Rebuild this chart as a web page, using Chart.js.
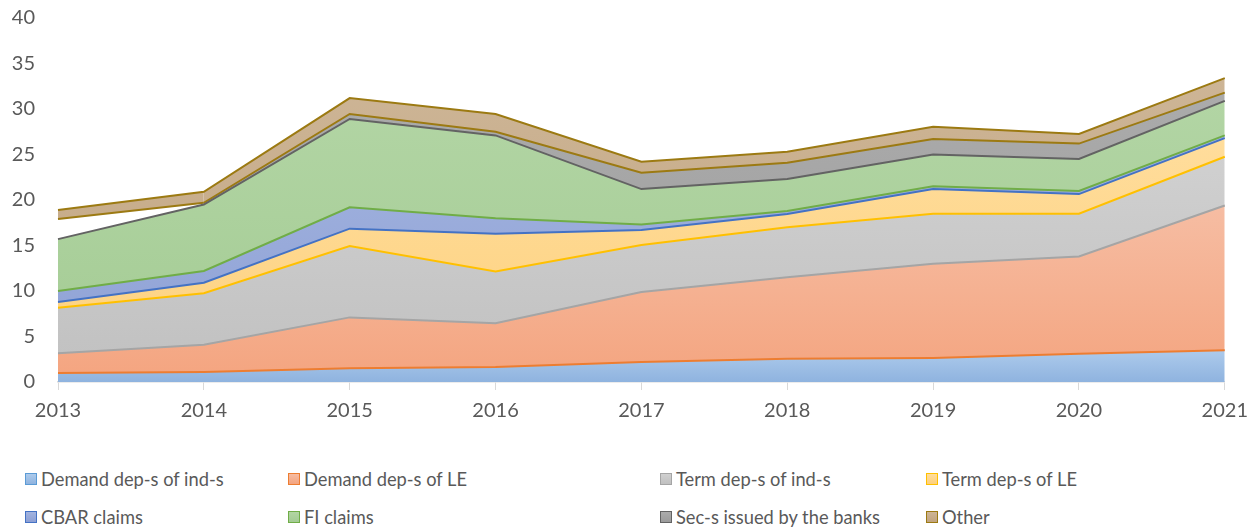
<!DOCTYPE html>
<html>
<head>
<meta charset="utf-8">
<script src="https://cdn.jsdelivr.net/npm/chart.js@4/dist/chart.umd.min.js"></script>
<style>
  body { margin: 0; background: #fff; font-family: Lato, sans-serif; }
  #contenedor { position: relative; width: 1257px; height: 529px; }
  #zonaGrafica { position: absolute; left: 0; top: 0; width: 1257px; height: 440px; }
  .item { position: absolute; display: flex; align-items: center; color: #595959; font-size: 18.3px; white-space: nowrap; }
  .caja { width: 10px; height: 10px; border: 1.5px solid; margin-right: 4px; }
</style>
</head>
<body>
<div id="contenedor">
  <div id="zonaGrafica"><canvas id="grafica"></canvas></div>
  <div id="leyenda"></div>
</div>
<script>
const anios = ["2013", "2014", "2015", "2016", "2017", "2018", "2019", "2020", "2021"];

const demandaInd = [1.0, 1.1, 1.5, 1.65, 2.2, 2.55, 2.65, 3.1, 3.5];
const demandaLE = [2.15, 3.0, 5.6, 4.8, 7.7, 8.95, 10.35, 10.7, 15.9];
const plazoInd = [5.0, 5.65, 7.85, 5.7, 5.15, 5.5, 5.5, 4.7, 5.35];
const plazoLE = [0.65, 1.15, 1.9, 4.15, 1.65, 1.45, 2.7, 2.15, 2.05];
const reclamosCBAR = [1.2, 1.3, 2.35, 1.7, 0.6, 0.35, 0.3, 0.35, 0.3];
const reclamosFI = [5.7, 7.3, 9.7, 9.1, 3.9, 3.5, 3.5, 3.5, 3.8];
const valoresBancos = [2.2, 0.2, 0.55, 0.4, 1.8, 1.8, 1.7, 1.7, 0.9];
const otros = [1.0, 1.2, 1.75, 1.95, 1.2, 1.2, 1.35, 1.05, 1.6];

const nombres = [
  "Demand dep-s of ind-s", "Demand dep-s of LE", "Term dep-s of ind-s", "Term dep-s of LE",
  "CBAR claims", "FI claims", "Sec-s issued by the banks", "Other"
];
const series = [demandaInd, demandaLE, plazoInd, plazoLE, reclamosCBAR, reclamosFI, valoresBancos, otros];

// relleno degradado: claro arriba, oscuro abajo
const claros = ["#adcbec", "#f6bda3", "#d0d0d0", "#ffdd9c", "#a2b3df", "#b2d5a4", "#ababab", "#cdb596"];
const oscuros = ["#8fb3df", "#f4a47f", "#c0c0c0", "#fdd07c", "#8c9fd4", "#a3cb93", "#9b9b9b", "#c1a47f"];
const lineas = ["#5b9bd5", "#ed7d31", "#a5a5a5", "#ffc000", "#4472c4", "#70ad47", "#636363", "#9c7a12"];

function degradado(i) {
  return (c) => {
    const chart = c.chart;
    if (!chart.chartArea) return oscuros[i];
    // tope de la serie apilada
    let tope = 0;
    for (let k = 0; k < anios.length; k++) {
      let suma = 0;
      for (let j = 0; j <= i; j++) suma += series[j][k];
      tope = Math.max(tope, suma);
    }
    const yTop = chart.scales.y.getPixelForValue(tope);
    const g = chart.ctx.createLinearGradient(0, yTop, 0, chart.chartArea.bottom);
    g.addColorStop(0, claros[i]);
    g.addColorStop(1, oscuros[i]);
    return g;
  };
}

// en Excel la linea de cada frontera es la de la serie de arriba
const datasets = series.map((valores, i) => ({
  label: nombres[i],
  data: valores,
  backgroundColor: degradado(i),
  borderColor: lineas[Math.min(i + 1, lineas.length - 1)],
  borderWidth: 2,
  pointRadius: 0,
  tension: 0,
  fill: i === 0 ? "origin" : "-1"
}));

// tramo 2013-2014: hueco blanco sobre FI claims
datasets[6].segment = { backgroundColor: c => c.p0DataIndex === 0 ? "#ffffff" : undefined };

const ctx = document.getElementById("grafica").getContext("2d");

const grafica = new Chart(ctx, {
  type: "line",
  data: { labels: anios, datasets: datasets },
  options: {
    responsive: true,
    maintainAspectRatio: false,
    animation: false,
    layout: { padding: { top: 18, right: 32, left: 0, bottom: 0 } },
    plugins: { legend: { display: false }, tooltip: { enabled: false } },
    scales: {
      x: {
        offset: false,
        grid: { drawOnChartArea: false, color: "#d9d9d9", tickLength: 8 },
        border: { color: "#d9d9d9", width: 1.5 },
        ticks: { color: "#595959", font: { family: "Lato", size: 20 }, padding: 9, maxRotation: 0 },
        afterFit: s => { s.height = 58; }
      },
      y: {
        stacked: true,
        min: 0,
        max: 40,
        // el hueco entre numeros y eje va en tickLength (sin dibujar marcas)
        grid: { display: false, drawTicks: true, tickLength: 23 },
        border: { display: false },
        ticks: { stepSize: 5, color: "#595959", font: { family: "Lato", size: 20 }, padding: 0 },
        afterFit: s => { s.width = 58; }
      }
    }
  }
});

// leyenda en html, 2 filas x 4 columnas
const columnas = [25, 288, 660, 926];
const filas = [479, 517];
const leyenda = document.getElementById("leyenda");
grafica.data.datasets.forEach((d, i) => {
  const item = document.createElement("div");
  item.className = "item";
  item.style.left = columnas[i % 4] + "px";
  item.style.top = (filas[Math.floor(i / 4)] - 12) + "px";
  item.style.height = "24px";
  const caja = document.createElement("span");
  caja.className = "caja";
  caja.style.background = `linear-gradient(${claros[i]}, ${oscuros[i]})`;
  caja.style.borderColor = lineas[i];
  item.appendChild(caja);
  item.appendChild(document.createTextNode(d.label));
  leyenda.appendChild(item);
});
</script>
</body>
</html>
